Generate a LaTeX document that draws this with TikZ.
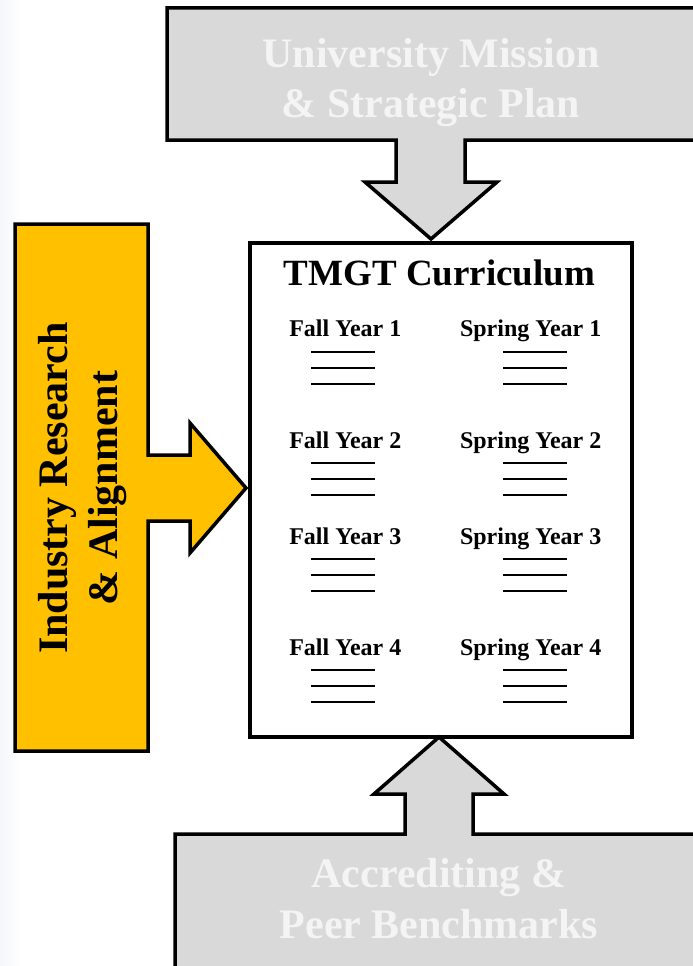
\documentclass[tikz,border=0pt]{standalone}
\usepackage{fontspec}
\setmainfont{Liberation Serif}
\definecolor{boxgray}{HTML}{D9D9D9}
\definecolor{amber}{HTML}{FFC000}
\definecolor{paletext}{HTML}{F4F4F4}
\definecolor{edgetint}{HTML}{F6F7FB}
\begin{document}
\begin{tikzpicture}[x=1pt,y=-1pt,
  outline/.style={draw=black,line width=3.5pt,line join=miter},
  bigtxt/.style={font=\fontsize{42}{50}\selectfont\bfseries,anchor=base,inner sep=0pt},
  titletxt/.style={font=\fontsize{37}{44}\selectfont\bfseries,anchor=base,inner sep=0pt},
  semtxt/.style={font=\fontsize{24}{28}\selectfont\bfseries,anchor=base,inner sep=0pt},
  rule/.style={draw=black,line width=2pt}]
\useasboundingbox (0,0) rectangle (693,966);
\clip (0,0) rectangle (693,966);
\fill[white] (0,0) rectangle (693,966);
\shade[left color=edgetint,right color=white] (0,0) rectangle (22,966);

% curriculum box
\node[outline,fill=white,minimum width=382pt,minimum height=494pt,inner sep=0pt,anchor=north west] (curr) at (248,241) {};

% top input: mission and plan
\draw[outline,fill=boxgray]
  (167,8) -- (710,8) -- (710,140) -- (465,140) -- (465,182) -- (497,182)
  -- (431,239) -- (365,182) -- (396,182) -- (396,140) -- (167,140) -- cycle;
\node[bigtxt,text=paletext] (mission1) at (431,67) {University Mission};
\node[bigtxt,text=paletext] (mission2) at (431,117) {\& Strategic Plan};

% left input: industry
\draw[outline,fill=amber]
  (15,224) -- (148,224) -- (148,455) -- (190,455) -- (190,423)
  -- (246,488) -- (190,553) -- (190,521) -- (148,521) -- (148,751) -- (15,751) -- cycle;
\node[bigtxt,rotate=90] (industry1) at (67,488) {Industry Research};
\node[bigtxt,rotate=90] (industry2) at (117,488) {\& Alignment};

% bottom input: accreditation
\draw[outline,fill=boxgray]
  (175,834) -- (405,834) -- (405,794) -- (374,794) -- (439,737)
  -- (504,794) -- (473,794) -- (473,834) -- (710,834) -- (710,980) -- (175,980) -- cycle;
\node[bigtxt,text=paletext] (accred1) at (439,887) {Accrediting \&};
\node[bigtxt,text=paletext] (accred2) at (439,938) {Peer Benchmarks};

% curriculum contents
\node[titletxt] (title) at (439.5,285) {TMGT Curriculum};
\foreach \yr/\yb in {1/336.7,2/448.3,3/544.3,4/655} {
  \node[semtxt] (fall\yr) at (345.3,\yb) {Fall Year \yr};
  \node[semtxt] (spring\yr) at (530.7,\yb) {Spring Year \yr};
  \foreach \dy in {15,31,47} {
    \draw[rule] (311,\yb+\dy) -- (375,\yb+\dy);
    \draw[rule] (503,\yb+\dy) -- (567,\yb+\dy);
  }
}
\end{tikzpicture}
\end{document}
